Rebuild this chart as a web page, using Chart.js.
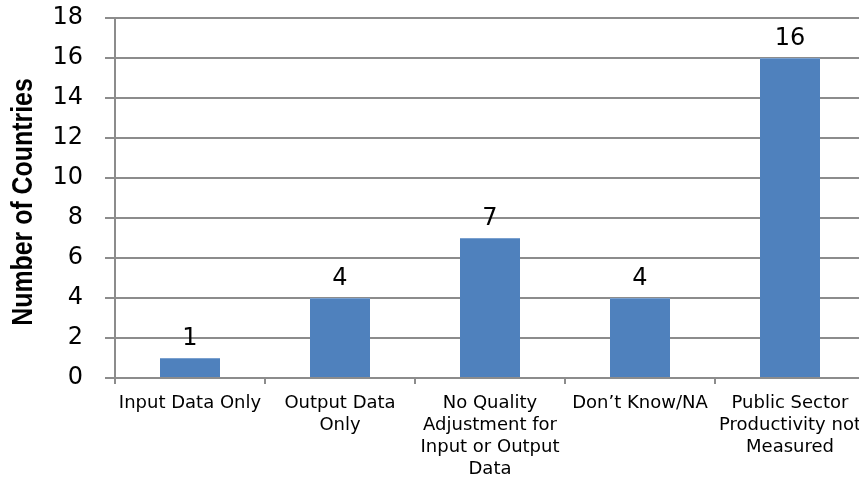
<!DOCTYPE html>
<html>
<head>
<meta charset="utf-8">
<script src="https://cdn.jsdelivr.net/npm/chart.js@4/dist/chart.umd.min.js"></script>
<style>
  html, body { margin: 0; padding: 0; overflow: hidden; background: #fff; }
  #wrap { position: relative; width: 870px; height: 481px; }
</style>
</head>
<body>
<div id="wrap"><canvas id="chart"></canvas></div>
<script>
// Public sector productivity measurement approaches, by number of countries
const categories = [
  'Input Data Only',
  ['Output Data', 'Only'],
  ['No Quality', 'Adjustment for', 'Input or Output', 'Data'],
  'Don\u2019t Know/NA',
  ['Public Sector', 'Productivity not', 'Measured']
];
const countries = [1, 4, 7, 4, 16];
const yTicks = [0, 2, 4, 6, 8, 10, 12, 14, 16, 18];
const yAxisTitle = 'Number of Countries';

const axisGrey = '#8c8c8c';
const barBlue = '#4F81BD';

// Writes each bar's value just above it
const valueLabels = {
  id: 'valueLabels',
  afterDatasetsDraw(chart) {
    const ctx = chart.ctx;
    const meta = chart.getDatasetMeta(0);
    ctx.save();
    ctx.font = '24px "DejaVu Sans", sans-serif';
    ctx.fillStyle = '#000';
    ctx.textAlign = 'center';
    ctx.textBaseline = 'alphabetic';
    meta.data.forEach((bar, i) => {
      ctx.fillText(String(chart.data.datasets[0].data[i]), bar.x, bar.y - 13);
    });
    ctx.restore();
  }
};

// Condensed, rotated axis title centred on the plot's height
const condensedYTitle = {
  id: 'condensedYTitle',
  afterDraw(chart) {
    const ctx = chart.ctx;
    const area = chart.chartArea;
    ctx.save();
    ctx.translate(24, (area.top + area.bottom) / 2 + 4);
    ctx.rotate(-Math.PI / 2);
    ctx.scale(0.83, 1);
    ctx.font = 'bold 30px "Liberation Sans", Arial, sans-serif';
    ctx.fillStyle = '#000';
    ctx.textAlign = 'center';
    ctx.textBaseline = 'middle';
    ctx.fillText(yAxisTitle, 0, 0);
    ctx.restore();
  }
};

new Chart(document.getElementById('chart'), {
  type: 'bar',
  data: {
    labels: categories,
    datasets: [{
      data: countries,
      backgroundColor: barBlue,
      borderColor: '#7aa0cf',
      borderWidth: { top: 1, left: 0, right: 0, bottom: 0 },
      categoryPercentage: 1,
      barPercentage: 0.4
    }]
  },
  options: {
    responsive: true,
    maintainAspectRatio: false,
    animation: false,
    layout: { padding: { top: 18, right: 5, bottom: 0, left: 0 } },
    plugins: {
      legend: { display: false },
      tooltip: { enabled: false }
    },
    scales: {
      x: {
        offset: true,
        grid: {
          offset: true,
          drawOnChartArea: false,
          drawTicks: true,
          tickLength: 6,
          color: axisGrey,
          lineWidth: 2
        },
        border: { color: axisGrey, width: 2 },
        ticks: {
          autoSkip: false,
          maxRotation: 0,
          minRotation: 0,
          padding: 8,
          color: '#000',
          font: { family: '"DejaVu Sans", sans-serif', size: 18, lineHeight: 1.22 }
        },
        afterFit(scale) { scale.height = 103; }
      },
      y: {
        min: 0,
        max: 18,
        afterBuildTicks(scale) { scale.ticks = yTicks.map(v => ({ value: v })); },
        grid: {
          color: axisGrey,
          lineWidth: 2,
          drawTicks: true,
          tickLength: 10
        },
        border: { color: axisGrey, width: 2 },
        ticks: {
          padding: 22,
          color: '#000',
          font: { family: '"DejaVu Sans", sans-serif', size: 24 }
        },
        title: { display: false },
        afterFit(scale) {
          scale.width = 115;
          scale.paddingTop = 0;
          scale.paddingBottom = 0;
        }
      }
    }
  },
  plugins: [valueLabels, condensedYTitle]
});
</script>
</body>
</html>
